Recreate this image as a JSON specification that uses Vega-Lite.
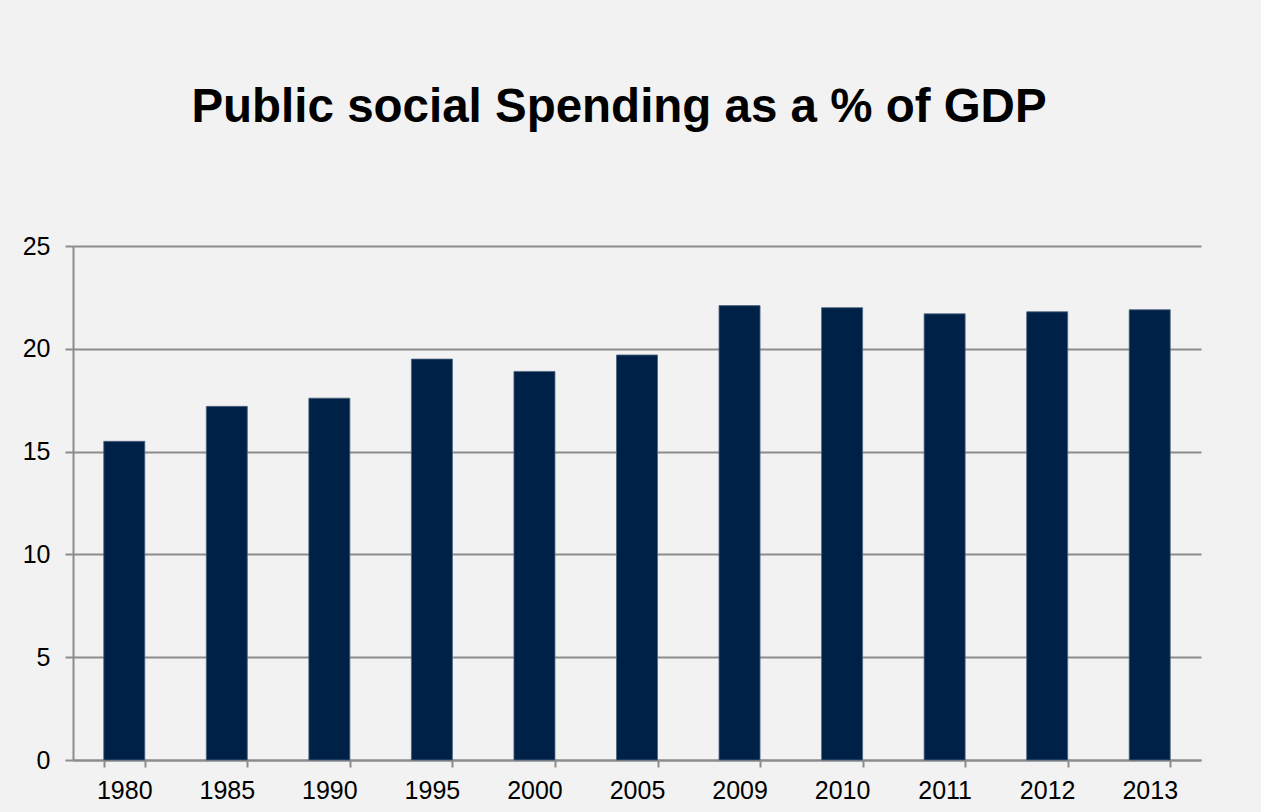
{
  "$schema": "https://vega.github.io/schema/vega-lite/v6.json",
  "autosize": {"type": "none"},
  "padding": {"left": 73, "top": 246, "right": 60, "bottom": 52},
  "width": 1128,
  "height": 514,
  "background": "#f2f2f2",
  "title": {
    "text": "Public social Spending as a % of GDP",
    "font": "Liberation Sans",
    "fontSize": 47.5,
    "fontWeight": "bold",
    "color": "#000000",
    "anchor": "middle",
    "dx": -18,
    "offset": 103
  },
  "data": {
    "values": [
      {"year": "1980", "value": 15.5},
      {"year": "1985", "value": 17.2},
      {"year": "1990", "value": 17.6},
      {"year": "1995", "value": 19.5},
      {"year": "2000", "value": 18.9},
      {"year": "2005", "value": 19.7},
      {"year": "2009", "value": 22.1},
      {"year": "2010", "value": 22.0},
      {"year": "2011", "value": 21.7},
      {"year": "2012", "value": 21.8},
      {"year": "2013", "value": 21.9}
    ]
  },
  "mark": {"type": "bar", "color": "#002147", "stroke": "#4d6480", "strokeWidth": 0.8},
  "encoding": {
    "x": {
      "field": "year",
      "type": "ordinal",
      "sort": null,
      "scale": {"paddingInner": 0.6, "paddingOuter": 0.3},
      "axis": {
        "title": null,
        "labelAngle": 0,
        "tickBand": "extent",
        "grid": false,
        "domainColor": "#8c8c8c",
        "domainWidth": 2,
        "tickColor": "#8c8c8c",
        "tickWidth": 2,
        "tickSize": 7,
        "labelPadding": 11,
        "labelFont": "Liberation Sans",
        "labelFontSize": 25,
        "labelColor": "#000000"
      }
    },
    "y": {
      "field": "value",
      "type": "quantitative",
      "scale": {"domain": [0, 25], "nice": false},
      "axis": {
        "title": null,
        "values": [0, 5, 10, 15, 20, 25],
        "grid": true,
        "gridColor": "#8c8c8c",
        "gridWidth": 2,
        "domainColor": "#8c8c8c",
        "domainWidth": 2,
        "tickColor": "#8c8c8c",
        "tickWidth": 2,
        "tickSize": 8,
        "labelPadding": 15,
        "labelFont": "Liberation Sans",
        "labelFontSize": 25,
        "labelColor": "#000000"
      }
    }
  },
  "config": {"view": {"stroke": null}}
}
